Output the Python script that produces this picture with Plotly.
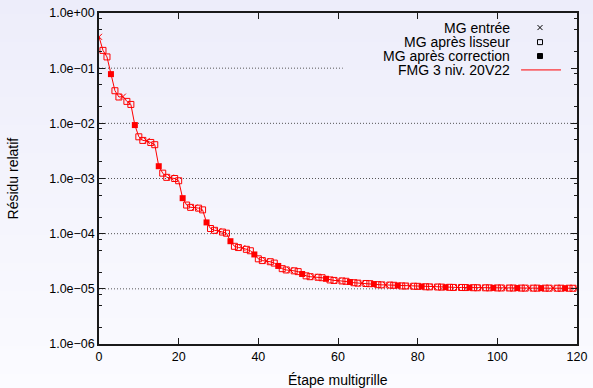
import base64
import struct
import zlib

import plotly.graph_objects as go

# Multigrid step index and relative residual
etapes = list(range(0, 121))
residu = [
    0.37, 0.21, 0.16, 0.078, 0.039, 0.030,
    0.0305, 0.025, 0.022, 0.0093, 0.0057, 0.0049,
    0.0048, 0.0045, 0.0041, 0.00167, 0.00125, 0.00105,
    0.00104, 0.00100, 0.00091, 0.00044, 0.00033, 0.00030,
    0.000298, 0.00029, 0.00027, 0.00016, 0.000124, 0.000115,
    0.000112, 0.000107, 0.000102, 7.3e-5, 5.9e-5, 5.6e-5,
    5.5e-5, 5.2e-5, 4.9e-5, 4.2e-5, 3.5e-5, 3.25e-5,
    3.2e-5, 3.1e-5, 2.93e-5, 2.6e-5, 2.32e-5, 2.2e-5,
    2.18e-5, 2.12e-5, 2.05e-5, 1.86e-5, 1.72e-5, 1.66e-5,
    1.65e-5, 1.62e-5, 1.59e-5, 1.52e-5, 1.45e-5, 1.42e-5,
    1.41e-5, 1.39e-5, 1.37e-5, 1.33e-5, 1.29e-5, 1.27e-5,
    1.265e-5, 1.25e-5, 1.24e-5, 1.22e-5, 1.19e-5, 1.18e-5,
    1.178e-5, 1.17e-5, 1.16e-5, 1.15e-5, 1.13e-5, 1.125e-5,
    1.12e-5, 1.115e-5, 1.11e-5, 1.10e-5, 1.09e-5, 1.085e-5,
    1.083e-5, 1.08e-5, 1.075e-5, 1.07e-5, 1.065e-5, 1.06e-5,
    1.06e-5, 1.058e-5, 1.055e-5, 1.05e-5, 1.048e-5, 1.046e-5,
    1.045e-5, 1.044e-5, 1.042e-5, 1.04e-5, 1.038e-5, 1.037e-5,
    1.036e-5, 1.035e-5, 1.034e-5, 1.033e-5, 1.032e-5, 1.031e-5,
    1.031e-5, 1.030e-5, 1.030e-5, 1.029e-5, 1.028e-5, 1.028e-5,
    1.028e-5, 1.027e-5, 1.027e-5, 1.026e-5, 1.026e-5, 1.025e-5,
    1.025e-5,
]

# Kind of each step inside a 6-step cycle
CYCLE = 6
POS_ENTREE = 0
POS_CORRECTION = 3

x_ticks = [0, 20, 40, 60, 80, 100, 120]
y_exponents = [0, -1, -2, -3, -4, -5, -6]
y_ticks = [10.0 ** e for e in y_exponents]
y_ticktext = ["1.0e+00", "1.0e\u221201", "1.0e\u221202", "1.0e\u221203",
              "1.0e\u221204", "1.0e\u221205", "1.0e\u221206"]
y_minor = [m * 10.0 ** e for e in range(-6, 0) for m in (2, 5, 8)]

legend_labels = ["MG entrée", "MG après lisseur", "MG après correction",
                 "FMG 3 niv. 20V22"]

RED = "#ff0000"
BG = "#f3f3fc"
FONT = "Liberation Sans, Arial, Helvetica, sans-serif"

W, H = 593, 388
ML, MR, MT, MB = 99, 16, 13, 44
PW, PH = W - ML - MR, H - MT - MB


def gradient_png(height, top, bottom):
    rows = []
    for i in range(height):
        t = i / (height - 1)
        px = bytes(int(round(a + (b - a) * t)) for a, b in zip(top, bottom))
        rows.append(b"\x00" + px)
    raw = b"".join(rows)

    def chunk(tag, data):
        c = struct.pack(">I", len(data)) + tag + data
        return c + struct.pack(">I", zlib.crc32(tag + data) & 0xffffffff)

    png = b"\x89PNG\r\n\x1a\n"
    png += chunk(b"IHDR", struct.pack(">IIBBBBB", 1, height, 8, 2, 0, 0, 0))
    png += chunk(b"IDAT", zlib.compress(raw))
    png += chunk(b"IEND", b"")
    return "data:image/png;base64," + base64.b64encode(png).decode()


ent_x = [s for s in etapes if s % CYCLE == POS_ENTREE]
ent_y = [residu[s] for s in ent_x]
cor_x = [s for s in etapes if s % CYCLE == POS_CORRECTION]
cor_y = [residu[s] for s in cor_x]
lis_x = [s for s in etapes if s % CYCLE not in (POS_ENTREE, POS_CORRECTION)]
lis_y = [residu[s] for s in lis_x]

fig = go.Figure()
fig.add_trace(go.Scatter(x=etapes, y=residu, mode="lines",
                         line=dict(color=RED, width=1), showlegend=False))
fig.add_trace(go.Scatter(x=lis_x, y=lis_y, mode="markers",
                         marker=dict(symbol="square-open", size=6, color=RED,
                                     line=dict(width=1, color=RED)),
                         showlegend=False))
fig.add_trace(go.Scatter(x=cor_x, y=cor_y, mode="markers",
                         marker=dict(symbol="square", size=6, color=RED,
                                     line=dict(width=0)),
                         showlegend=False))
fig.add_trace(go.Scatter(x=ent_x, y=ent_y, mode="markers",
                         marker=dict(symbol="x-thin-open", size=6, color=RED,
                                     line=dict(width=1, color=RED)),
                         showlegend=False))

# Gnuplot-style key (text right, sample left) drawn on an overlay [0,1] axis
row_y = [0.956, 0.912, 0.870, 0.828]
sample_x = 0.9226
text_x = 0.8634
leg_syms = ["x-thin-open", "square-open", "square"]
for i, sym in enumerate(leg_syms):
    fig.add_trace(go.Scatter(x=[sample_x], y=[row_y[i]], mode="markers",
                             xaxis="x2", yaxis="y2", showlegend=False,
                             marker=dict(symbol=sym, size=5, color="#000",
                                         line=dict(width=1, color="#000"))))
fig.add_trace(go.Scatter(x=[0.883, 0.9665], y=[row_y[3], row_y[3]], mode="lines",
                         xaxis="x2", yaxis="y2", showlegend=False,
                         line=dict(color=RED, width=1)))
for i, lab in enumerate(legend_labels):
    fig.add_annotation(x=text_x, y=row_y[i], xref="paper", yref="paper",
                       text=lab, showarrow=False, xanchor="right",
                       yanchor="middle", font=dict(size=14, color="#000", family=FONT))

# dotted horizontal grid at the inner decades (the key box hides part of 1e-1)
for e in y_exponents[1:-1]:
    yp = (6 + e) / 6.0
    x_end = 0.51 if e == -1 else 1.0
    fig.add_shape(type="line", xref="paper", yref="paper", x0=0, x1=x_end,
                  y0=yp, y1=yp, layer="below",
                  line=dict(color="#555", width=1, dash="1px,2px"))

# soft lavender background gradient, as in the reference page
fig.add_layout_image(source=gradient_png(H, (237, 237, 250), (251, 251, 255)),
                     xref="paper", yref="paper", x=-ML / PW, y=1 + MT / PH,
                     sizex=W / PW, sizey=H / PH, sizing="stretch",
                     xanchor="left", yanchor="top", layer="below")

axis_common = dict(showline=True, linecolor="#1a1a1a", linewidth=1.5, mirror="ticks",
                   ticks="inside", tickcolor="#1a1a1a", tickwidth=1, automargin=False,
                   tickfont=dict(size=12.5, color="#000", family=FONT), zeroline=False,
                   showgrid=False)

fig.update_layout(
    width=W, height=H,
    margin=dict(l=ML, r=MR, t=MT, b=MB),
    paper_bgcolor=BG, plot_bgcolor="rgba(0,0,0,0)",
    font=dict(family=FONT, color="#000"),
    xaxis=dict(range=[0, 120], tickvals=x_ticks, ticklen=6, **axis_common),
    yaxis=dict(type="log", range=[-6, 0], tickvals=y_ticks, ticktext=y_ticktext,
               ticklen=6,
               minor=dict(tickvals=y_minor, ticklen=3, ticks="inside",
                          tickcolor="#1a1a1a", showgrid=False),
               **axis_common),
    xaxis2=dict(overlaying="x", range=[0, 1], visible=False),
    yaxis2=dict(overlaying="y", range=[0, 1], visible=False),
    showlegend=False,
)

fig.add_annotation(x=0.5, y=-0.109, xref="paper", yref="paper",
                   xanchor="center", yanchor="middle",
                   text="Étape multigrille", showarrow=False,
                   font=dict(size=14, family=FONT, color="#000"))
fig.add_annotation(x=-0.18, y=0.5, xref="paper", yref="paper",
                   xanchor="center", yanchor="middle",
                   text="Résidu relatif", showarrow=False, textangle=-90,
                   font=dict(size=14, family=FONT, color="#000"))

fig.write_html("out.html")
